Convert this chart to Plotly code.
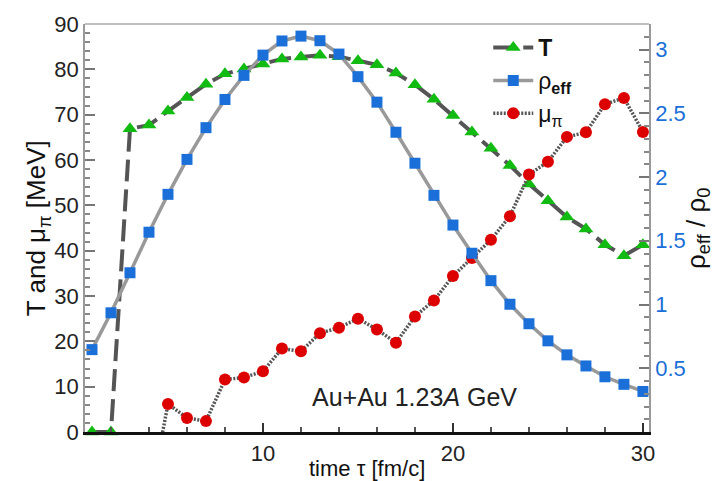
import plotly.graph_objects as go

tau = list(range(1, 31))
T_vals = [0, 0, 66.9, 67.7, 70.8, 73.8, 76.7, 79.0, 80.1, 81.2, 82.3, 82.7, 83.1, 82.8, 81.9,
          81.0, 79.2, 76.6, 73.4, 69.8, 66.2, 62.6, 58.8, 54.7, 51.0, 47.4, 44.8, 41.3, 38.9, 41.3]
rho_vals = [0.646, 0.935, 1.249, 1.567, 1.864, 2.138, 2.387, 2.608, 2.797, 2.956, 3.067, 3.105,
            3.069, 2.964, 2.787, 2.587, 2.351, 2.108, 1.856, 1.623, 1.402, 1.187, 1.002, 0.849,
            0.715, 0.605, 0.518, 0.433, 0.374, 0.318]
tau_mu = list(range(4, 31))
mu_vals = [-16, 6.2, 3.1, 2.4, 11.6, 12.0, 13.4, 18.4, 17.8, 21.8, 23.0, 25.0, 22.6, 19.7, 25.5,
           29.0, 34.4, 38.4, 42.4, 47.6, 56.8, 59.6, 65.1, 66.1, 72.3, 73.7, 66.2]

FONT = "Liberation Sans, Arial, sans-serif"
BLUE = "#1a6fd8"

fig = go.Figure()
fig.add_trace(go.Scatter(
    x=tau, y=T_vals, name="<b>T</b>", mode="lines+markers",
    line=dict(color="#555555", width=4, dash="22px,8px"),
    marker=dict(symbol="triangle-up", size=13, color="#11bb11"),
    cliponaxis=False, yaxis="y"))
fig.add_trace(go.Scatter(
    x=tau, y=rho_vals, name="ρ<sub><b>eff</b></sub>", mode="lines+markers",
    line=dict(color="#999999", width=3.5),
    marker=dict(symbol="square", size=11, color=BLUE),
    yaxis="y2"))
fig.add_trace(go.Scatter(
    x=tau_mu, y=mu_vals, name="μ<sub>π</sub>", mode="lines+markers",
    line=dict(color="#555555", width=3.5, dash="2px,1.5px"),
    marker=dict(symbol="circle", size=12, color="#dd0000"),
    yaxis="y"))

fig.update_layout(
    width=720, height=481,
    margin=dict(l=85, r=71, t=17, b=49),
    paper_bgcolor="white", plot_bgcolor="white",
    font=dict(family=FONT, size=22, color="#222222"),
    showlegend=True,
    legend=dict(x=0.715, y=0.995, xanchor="left", yanchor="top",
                bgcolor="rgba(0,0,0,0)", font=dict(size=23, color="#111111"),
                itemwidth=40, tracegroupgap=0),
    xaxis=dict(range=[0.632, 30.32], tickvals=[10, 20, 30], ticks="inside", ticklen=9,
               tickcolor="#333333", tickwidth=1.5,
               minor=dict(dtick=2, tick0=0, ticks="inside", ticklen=5, tickcolor="#555555"),
               showgrid=False, zeroline=False, showline=True, linecolor="#111111", linewidth=3,
               mirror=False, tickfont=dict(size=22, color="#222222")),
    yaxis=dict(range=[0, 90], dtick=10, ticks="inside", ticklen=10, tickcolor="#777777",
               tickwidth=1.5,
               minor=dict(dtick=2, ticks="inside", ticklen=5, tickcolor="#888888"),
               showgrid=False, zeroline=False, showline=True, linecolor="#999999", linewidth=1.5,
               tickfont=dict(size=22, color="#222222")),
    yaxis2=dict(range=[0, 3.2], overlaying="y", side="right", tickvals=[0.5, 1, 1.5, 2, 2.5, 3],
                ticktext=["0.5", "1", "1.5", "2", "2.5", "3"],
                ticks="inside", ticklen=10, tickcolor="#777777", tickwidth=1.5,
                minor=dict(dtick=0.1, ticks="inside", ticklen=5, tickcolor="#888888"),
                showgrid=False, zeroline=False, showline=True, linecolor="#999999", linewidth=1.5,
                tickfont=dict(size=22, color=BLUE)),
    shapes=[dict(type="line", xref="paper", yref="paper", x0=0, x1=1, y0=1, y1=1,
                 line=dict(color="#aaaaaa", width=1.5))],
    annotations=[
        dict(text="T and μ<sub>π</sub> [MeV]", xref="paper", yref="paper", x=-0.052, y=0.5,
             xanchor="right", yanchor="middle", textangle=-90, showarrow=False,
             font=dict(size=26, color="#111111")),
        dict(text="ρ<sub>eff</sub> / ρ<sub>0</sub>", xref="paper", yref="paper", x=1.085, y=0.5,
             xanchor="center", yanchor="middle", textangle=-90, showarrow=False,
             font=dict(size=26, color="#111111")),
        dict(text="time τ [fm/c]", xref="paper", yref="paper", x=0.5, y=-0.055,
             xanchor="center", yanchor="top", showarrow=False,
             font=dict(size=22, color="#111111")),
        dict(text="Au+Au 1.23<i>A</i> GeV", x=18.0, y=7.8, xref="x", yref="y",
             xanchor="center", yanchor="middle", showarrow=False,
             font=dict(size=25, color="#222222")),
    ],
)

fig.write_html("out.html")
